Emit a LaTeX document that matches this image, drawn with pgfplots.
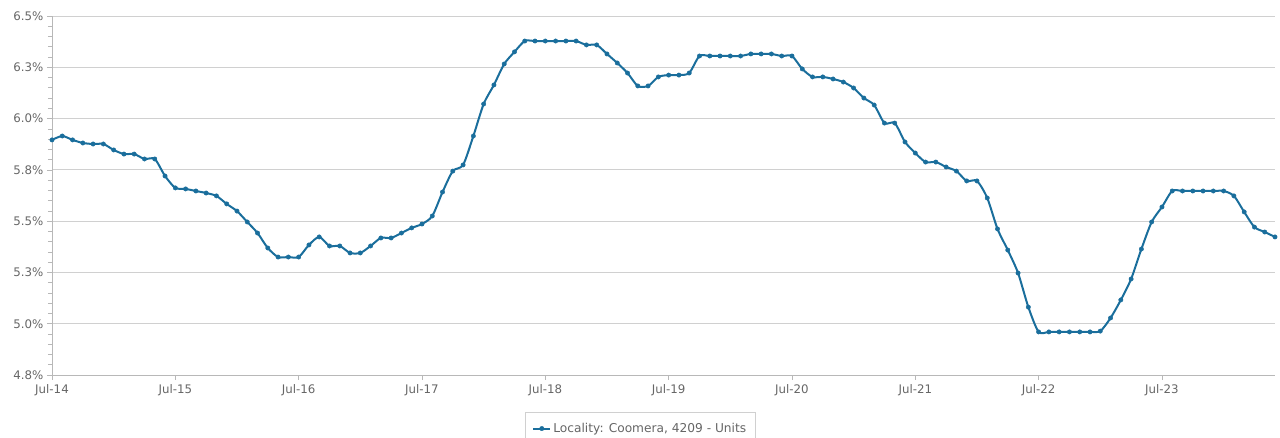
\documentclass[border=0pt]{standalone}
\usepackage{pgfplots}
\pgfplotsset{compat=1.18}
\usepackage{fontspec}
\setmainfont{DejaVu Sans}
\definecolor{lineblue}{HTML}{1A6E9C}
\definecolor{txtgray}{HTML}{666666}
\definecolor{gridgray}{HTML}{D0D0D0}
\definecolor{axgray}{HTML}{B8B8B8}
\begin{document}
\begin{tikzpicture}[x=1pt,y=1pt]
\useasboundingbox (-52,-63) rectangle (1228,375);
\begin{axis}[
  at={(0,0)}, anchor=south west,
  scale only axis, width=1223pt, height=359pt,
  xmin=0, xmax=119, ymin=4.75, ymax=6.5,
  axis lines*=left,
  axis line style={axgray},
  xtick={0,12,24,36,48,60,72,84,96,108},
  xticklabels={Jul-14,Jul-15,Jul-16,Jul-17,Jul-18,Jul-19,Jul-20,Jul-21,Jul-22,Jul-23},
  ytick={4.75,5,5.25,5.5,5.75,6,6.25,6.5},
  yticklabels={4.8\%,5.0\%,5.3\%,5.5\%,5.8\%,6.0\%,6.3\%,6.5\%},
  minor y tick num=4,
  ymajorgrids, major grid style={gridgray, line width=0.8pt},
  tick style={axgray, line width=0.6pt},
  tick align=outside,
  major tick length=5pt, minor tick length=4pt,
  xtick style={axgray},
  ticklabel style={font=\fontsize{11.8}{13}\selectfont, text=txtgray},
  /pgf/number format/assume math mode=true,
  x tick label style={yshift=-1pt},
  legend style={at={(axis description cs:0.481,-0.103)}, anchor=north,
    draw=gridgray, font=\fontsize{12.2}{14}\selectfont, text=txtgray,
    inner xsep=7pt, inner ysep=9pt},
  legend cell align=left,
  clip=false,
]
\addplot[lineblue, line width=2pt, smooth, tension=0.45,
  mark=*, mark size=2.2pt, mark options={fill=lineblue, draw=lineblue, line width=0.4pt}]
coordinates {
(0,5.896) (1,5.915) (2,5.896) (3,5.881) (4,5.876) (5,5.876) (6,5.847) (7,5.827) (8,5.827) (9,5.803)
(10,5.803) (11,5.720) (12,5.662) (13,5.657) (14,5.647) (15,5.637) (16,5.623) (17,5.584) (18,5.549) (19,5.496)
(20,5.442) (21,5.369) (22,5.325) (23,5.325) (24,5.325) (25,5.384) (26,5.423) (27,5.379) (28,5.379) (29,5.345)
(30,5.345) (31,5.379) (32,5.418) (33,5.418) (34,5.442) (35,5.467) (36,5.486) (37,5.525) (38,5.642) (39,5.744)
(40,5.774) (41,5.915) (42,6.071) (43,6.164) (44,6.266) (45,6.325) (46,6.378) (47,6.378) (48,6.378) (49,6.378)
(50,6.378) (51,6.378) (52,6.359) (53,6.359) (54,6.315) (55,6.271) (56,6.222) (57,6.159) (58,6.159) (59,6.203)
(60,6.212) (61,6.212) (62,6.222) (63,6.305) (64,6.305) (65,6.305) (66,6.305) (67,6.305) (68,6.315) (69,6.315)
(70,6.315) (71,6.305) (72,6.305) (73,6.242) (74,6.203) (75,6.203) (76,6.193) (77,6.178) (78,6.149) (79,6.100)
(80,6.066) (81,5.978) (82,5.978) (83,5.886) (84,5.832) (85,5.788) (86,5.788) (87,5.764) (88,5.744) (89,5.696)
(90,5.696) (91,5.613) (92,5.462) (93,5.359) (94,5.247) (95,5.081) (96,4.960) (97,4.960) (98,4.960) (99,4.960)
(100,4.960) (101,4.960) (102,4.964) (103,5.028) (104,5.116) (105,5.218) (106,5.364) (107,5.496) (108,5.569) (109,5.647)
(110,5.647) (111,5.647) (112,5.647) (113,5.647) (114,5.647) (115,5.623) (116,5.545) (117,5.471) (118,5.447) (119,5.423)
};
\addlegendentry{Locality: Coomera, 4209 - Units}
\end{axis}
\end{tikzpicture}
\end{document}
